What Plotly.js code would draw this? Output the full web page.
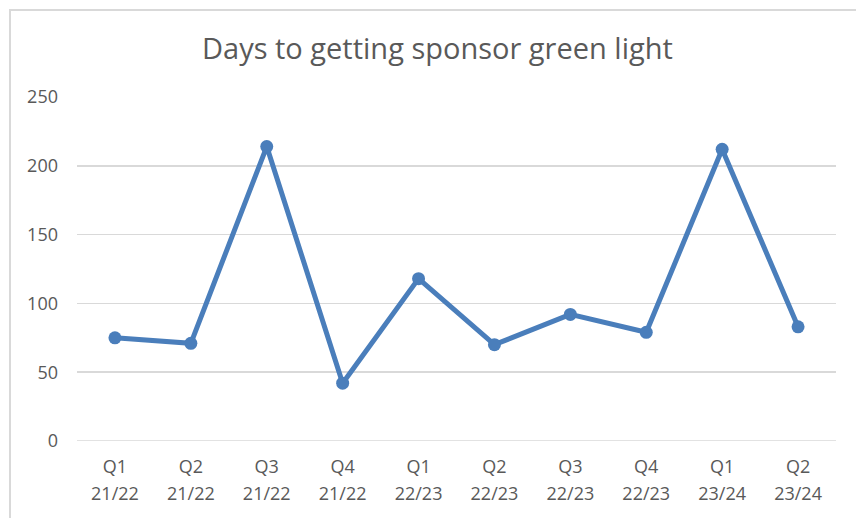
<!DOCTYPE html>
<html>
<head>
<meta charset="utf-8">
<script src="https://cdn.plot.ly/plotly-3.0.1.min.js"></script>
<style>
html,body{margin:0;padding:0;background:#fff;overflow:hidden;}
#wrap{position:relative;width:856px;height:518px;overflow:hidden;}
#chart{width:856px;height:518px;}
#frame{position:absolute;left:9px;top:9px;width:900px;height:600px;border:2px solid #d9d9d9;border-right:none;border-bottom:none;pointer-events:none;box-sizing:border-box;}
</style>
</head>
<body>
<div id="wrap"><div id="chart"></div><div id="frame"></div></div>
<script>
const quarters = ["Q1","Q2","Q3","Q4","Q1","Q2","Q3","Q4","Q1","Q2"];
const years = ["21/22","21/22","21/22","21/22","22/23","22/23","22/23","22/23","23/24","23/24"];
const days = [75, 71, 214, 42, 118, 70, 92, 79, 212, 83];
const yTicks = [0, 50, 100, 150, 200, 250];

const cats = quarters.map((q,i)=>q+" "+years[i]);
const color = "#4a7ebb";
const font = "Open Sans, Noto Sans, sans-serif";
const xr = [-0.5, cats.length - 0.5];

const trace = {
  x: cats, y: days, type: "scatter", mode: "lines+markers",
  line: {color: color, width: 5},
  marker: {color: color, size: 13},
  hoverinfo: "skip"
};
const ghost = {x: cats, y: days, xaxis: "x2", type: "scatter", mode: "none", hoverinfo: "skip", showlegend:false};

const layout = {
  width: 856, height: 518,
  margin: {l: 77, r: 20, t: 97, b: 77},
  paper_bgcolor: "#fff", plot_bgcolor: "#fff",
  showlegend: false,
  title: {text: "Days to getting sponsor green light", x: 0.511, xanchor: "center", y: 0.906, yanchor: "middle",
          font: {family: font, size: 29, color: "#595959"}},
  xaxis: {type: "category", range: xr, tickvals: cats, ticktext: quarters, showgrid: false, zeroline: false,
          showline: false, ticks: "", ticklabelstandoff: 13,
          tickfont: {family: font, size: 18, color: "#595959"}},
  xaxis2: {type: "category", overlaying: "x", range: xr, side: "bottom", anchor: "y", tickvals: cats, ticktext: years,
           showgrid: false, zeroline: false, showline: false, ticks: "", ticklabelstandoff: 40,
           tickfont: {family: font, size: 18, color: "#595959"}},
  yaxis: {range: [0, 250], tickvals: yTicks, showgrid: true, gridcolor: "#d9d9d9", gridwidth: 1.5,
          zeroline: false, showline: false, ticks: "", ticklabelstandoff: 18,
          tickfont: {family: font, size: 18, color: "#595959"}},
  shapes: [{type:"line", xref:"paper", yref:"y", x0:0, x1:1, y0:0, y1:0, line:{color:"#d9d9d9", width:1.5}, layer:"below"}]
};
Plotly.newPlot("chart", [ghost, trace], layout, {staticPlot: true, displayModeBar: false});
</script>
</body>
</html>
